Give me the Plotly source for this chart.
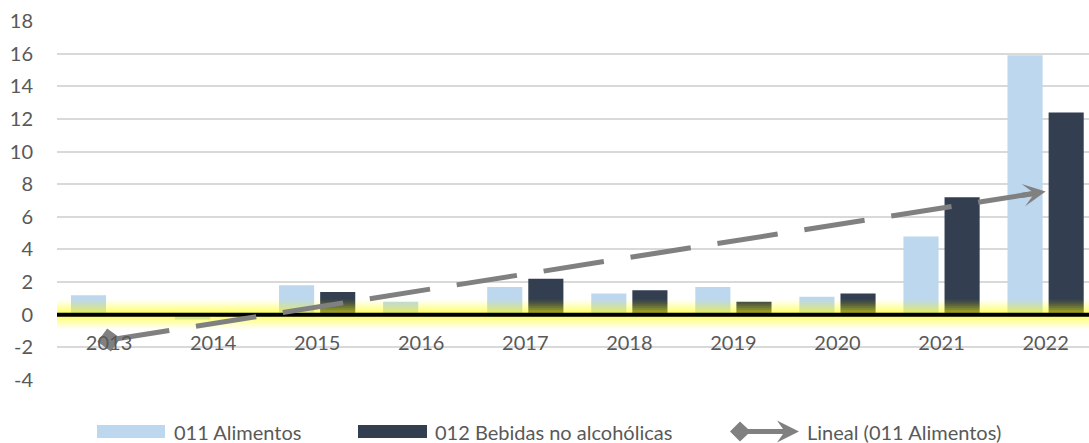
import numpy as np
import plotly.graph_objects as go

# ---- data ----
years = ["2013", "2014", "2015", "2016", "2017", "2018", "2019", "2020", "2021", "2022"]
alimentos = [1.2, -0.3, 1.8, 0.8, 1.7, 1.3, 1.7, 1.1, 4.8, 15.9]
bebidas = [0.0, -0.1, 1.4, 0.0, 2.2, 1.5, 0.8, 1.3, 7.2, 12.4]
y_ticks = [-4, -2, 0, 2, 4, 6, 8, 10, 12, 14, 16, 18]
y_tick_labels = ["-4", "-2", "0", "2", "4", "6", "8", "10", "12", "14", "16", "18"]

LIGHT = "#bdd7ee"
DARK = "#333f50"
GRAY = "#808080"
TXT = "#595959"
FONT = "Lato"

xi = np.arange(len(years))
coef = np.polyfit(xi, np.array(alimentos), 1)
trend = np.polyval(coef, xi)

fig = go.Figure()
fig.add_trace(go.Bar(x=xi, y=alimentos, name="011 Alimentos", marker_color=LIGHT,
                     marker_line_width=0, hoverinfo="skip", showlegend=False))
fig.add_trace(go.Bar(x=xi, y=bebidas, name="012 Bebidas no alcohólicas", marker_color=DARK,
                     marker_line_width=0, hoverinfo="skip", showlegend=False))

# soft glow around the zero axis line
xspan = [-0.7, len(years) - 0.3]
for w, a in zip([30, 26, 22, 18, 14, 10, 6], [0.05, 0.07, 0.09, 0.11, 0.13, 0.15, 0.17]):
    fig.add_trace(go.Scatter(x=xspan, y=[0, 0], mode="lines",
                             line=dict(color=f"rgba(255,255,0,{a})", width=w),
                             hoverinfo="skip", showlegend=False))
fig.add_trace(go.Scatter(x=xspan, y=[0, 0], mode="lines",
                         line=dict(color="black", width=4),
                         hoverinfo="skip", showlegend=False))

# linear trend of 011 Alimentos
fig.add_trace(go.Scatter(x=xi, y=trend, mode="lines", name="Lineal (011 Alimentos)",
                         line=dict(color=GRAY, width=5, dash="61px,27px"),
                         hoverinfo="skip", showlegend=False))
fig.add_trace(go.Scatter(x=[xi[0]], y=[trend[0]], mode="markers",
                         marker=dict(symbol="diamond", size=18, color=GRAY, angle=-9),
                         hoverinfo="skip", showlegend=False))
tail = xi[-1] - 0.25
fig.add_annotation(x=xi[-1], y=trend[-1], ax=tail, ay=float(np.polyval(coef, tail)),
                   xref="x", yref="y", axref="x", ayref="y", text="", showarrow=True,
                   arrowhead=3, arrowsize=0.75, arrowwidth=5, arrowcolor=GRAY)

# ---- manual legend (pixel positions -> paper) ----
L, R, T, B = 57, 1089, 21, 380
def px(x):
    return (x - L) / (R - L)
def py(y):
    return (B - y) / (B - T)

ly = 431.5
for x0, x1, col in [(97, 165, LIGHT), (358, 427, DARK)]:
    fig.add_shape(type="rect", xref="paper", yref="paper", x0=px(x0), x1=px(x1),
                  y0=py(438), y1=py(425), fillcolor=col, line_width=0)
for xt, label in [(172, "011 Alimentos"), (433, "012 Bebidas no alcohólicas"),
                  (805, "Lineal (011 Alimentos)")]:
    fig.add_annotation(x=px(xt), y=py(ly), xref="paper", yref="paper", text=label,
                       showarrow=False, xanchor="left", yanchor="middle",
                       font=dict(family=FONT, size=20, color=TXT))
# double arrow legend key
pts = [(730, ly), (740, ly - 10), (748, ly - 2.5), (783, ly - 2.5), (777, ly - 11),
       (799, ly), (777, ly + 11), (783, ly + 2.5), (748, ly + 2.5), (740, ly + 10)]
path = "M " + " L ".join(f"{px(a):.5f},{py(b):.5f}" for a, b in pts) + " Z"
fig.add_shape(type="path", xref="paper", yref="paper", path=path,
              fillcolor=GRAY, line_width=0)

fig.update_layout(
    width=1089, height=443,
    margin=dict(l=L, r=1089 - R, t=T, b=443 - B),
    paper_bgcolor="white", plot_bgcolor="white",
    barmode="group", bargap=0.21, bargroupgap=0.146,
    font=dict(family=FONT, size=20, color=TXT),
    xaxis=dict(range=[-0.5, 9.417], tickvals=list(xi), ticktext=years,
               anchor="free", position=4 / 22, showgrid=False, zeroline=False,
               showline=False, ticks="", ticklabelstandoff=14,
               tickfont=dict(family=FONT, size=20, color=TXT)),
    yaxis=dict(range=[-4, 18], tickvals=y_ticks, ticktext=y_tick_labels, showgrid=True,
               gridcolor="#d9d9d9", gridwidth=1.5, zeroline=False, showline=False, ticks="",
               ticklabelstandoff=23, tickfont=dict(family=FONT, size=20, color=TXT)),
)

fig.write_html("out.html", config={"displayModeBar": False},
               post_script="document.body.style.margin='0px';")
